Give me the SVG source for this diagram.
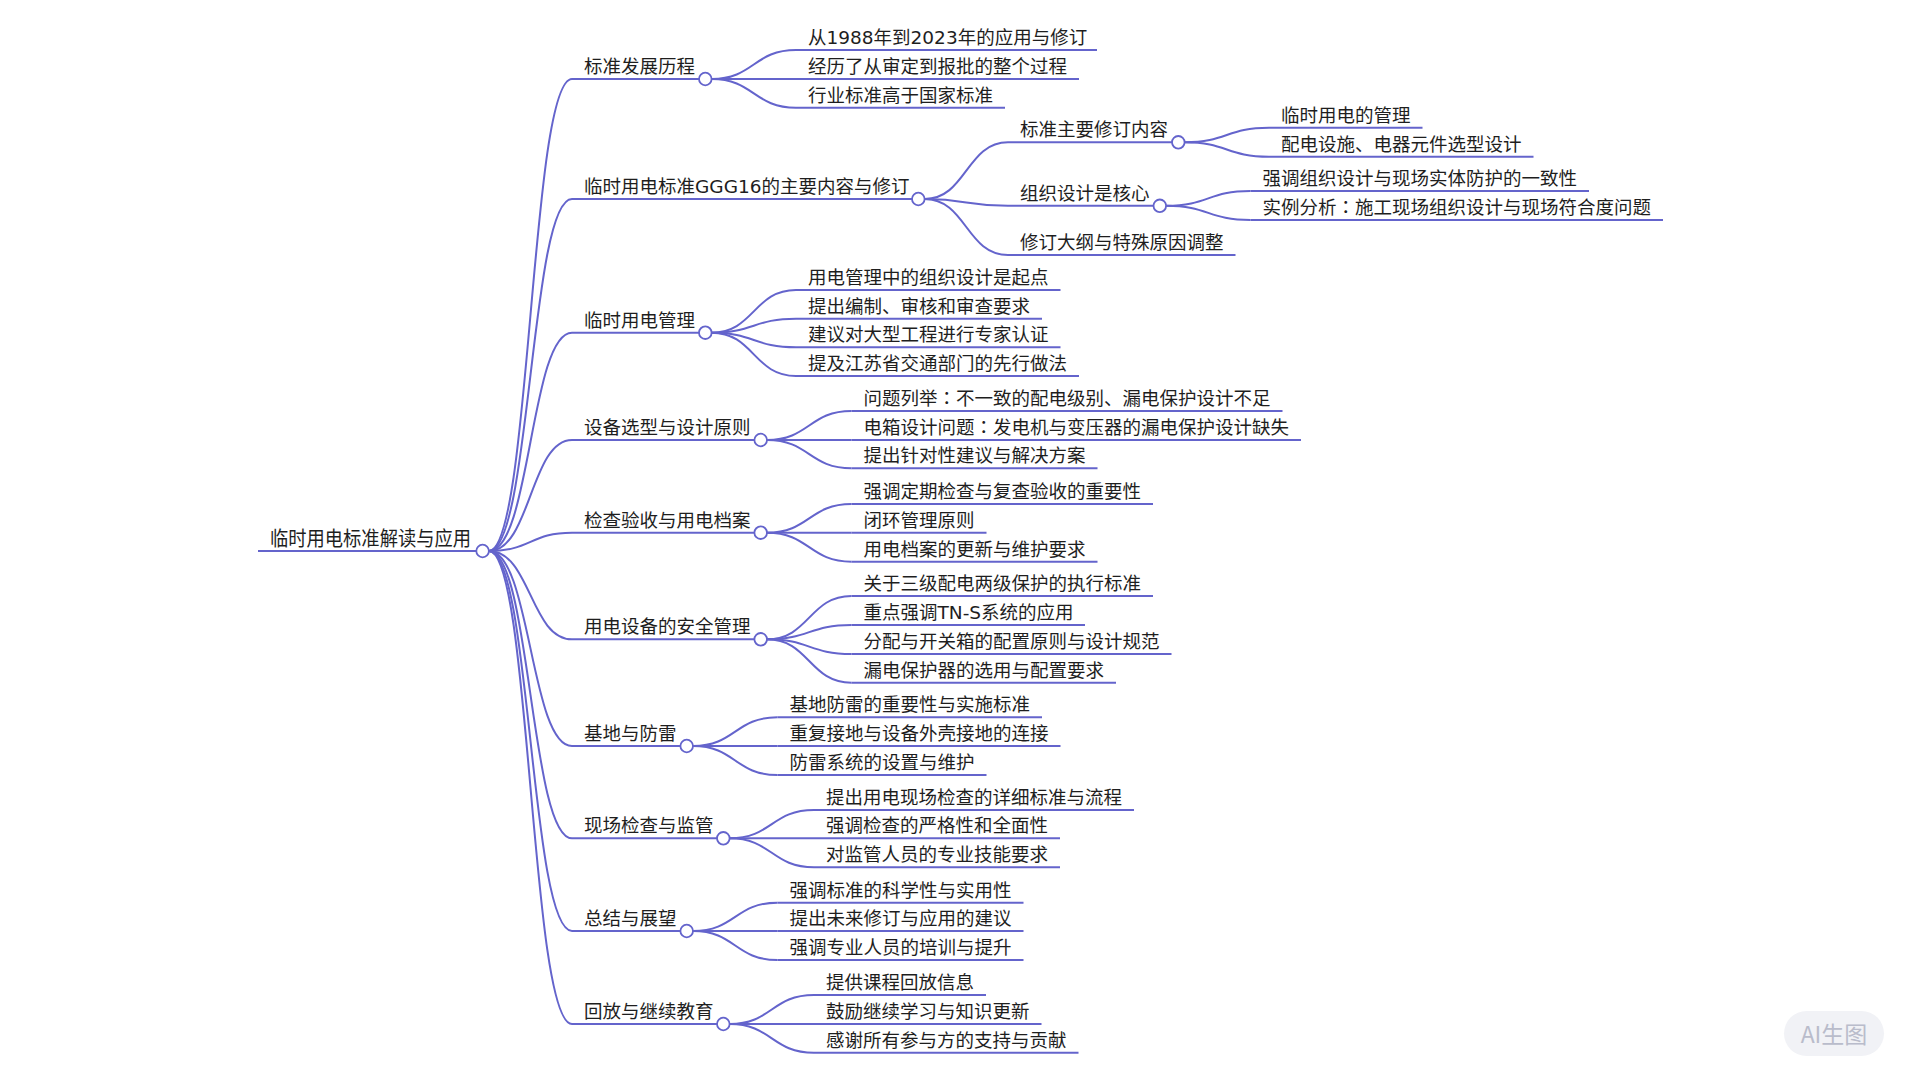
<svg xmlns="http://www.w3.org/2000/svg" width="1920" height="1080" viewBox="0 0 1920 1080">
<style>
.t{font-family:"DejaVu Sans","Noto Sans CJK SC",sans-serif;font-size:18.5px;fill:#1e1e1e}
.r{font-family:"Noto Sans CJK SC",sans-serif;font-size:20.2px;fill:#1e1e1e}
.p{font-family:"Noto Sans CJK JP",sans-serif}
.u{fill:none;stroke:#6464cc;stroke-width:2}
.c{fill:none;stroke:#6464cc;stroke-width:2}
.k{fill:#ffffff;stroke:#6464cc;stroke-width:1.8}
</style>
<rect width="1920" height="1080" fill="#ffffff"/>
<g id="connectors">
<path class="c" d="M488.9 551C530.5 551 530.5 79 572 79"/>
<path class="c" d="M488.9 551C530.5 551 530.5 199 572 199"/>
<path class="c" d="M488.9 551C530.5 551 530.5 332.7 572 332.7"/>
<path class="c" d="M488.9 551C530.5 551 530.5 440 572 440"/>
<path class="c" d="M488.9 551C530.5 551 530.5 532.7 572 532.7"/>
<path class="c" d="M488.9 551C530.5 551 530.5 639.3 572 639.3"/>
<path class="c" d="M488.9 551C530.5 551 530.5 746 572 746"/>
<path class="c" d="M488.9 551C530.5 551 530.5 838.3 572 838.3"/>
<path class="c" d="M488.9 551C530.5 551 530.5 931 572 931"/>
<path class="c" d="M488.9 551C530.5 551 530.5 1024 572 1024"/>
<path class="c" d="M711.6 79C753.8 79 753.8 50 796 50"/>
<path class="c" d="M711.6 79C753.8 79 753.8 79 796 79"/>
<path class="c" d="M711.6 79C753.8 79 753.8 107.7 796 107.7"/>
<path class="c" d="M924.6 199C966.3 199 966.3 142.3 1008 142.3"/>
<path class="c" d="M924.6 199C966.3 199 966.3 205.8 1008 205.8"/>
<path class="c" d="M924.6 199C966.3 199 966.3 255 1008 255"/>
<path class="c" d="M1184.6 142.3C1226.8 142.3 1226.8 127.7 1269 127.7"/>
<path class="c" d="M1184.6 142.3C1226.8 142.3 1226.8 156.7 1269 156.7"/>
<path class="c" d="M1166.1 205.8C1208.3 205.8 1208.3 191 1250.5 191"/>
<path class="c" d="M1166.1 205.8C1208.3 205.8 1208.3 220 1250.5 220"/>
<path class="c" d="M711.6 332.7C753.8 332.7 753.8 290 796 290"/>
<path class="c" d="M711.6 332.7C753.8 332.7 753.8 318.7 796 318.7"/>
<path class="c" d="M711.6 332.7C753.8 332.7 753.8 347.3 796 347.3"/>
<path class="c" d="M711.6 332.7C753.8 332.7 753.8 376 796 376"/>
<path class="c" d="M767 440C809.2 440 809.2 411 851.5 411"/>
<path class="c" d="M767 440C809.2 440 809.2 440 851.5 440"/>
<path class="c" d="M767 440C809.2 440 809.2 468.3 851.5 468.3"/>
<path class="c" d="M767 532.7C809.2 532.7 809.2 504 851.5 504"/>
<path class="c" d="M767 532.7C809.2 532.7 809.2 532.7 851.5 532.7"/>
<path class="c" d="M767 532.7C809.2 532.7 809.2 561.7 851.5 561.7"/>
<path class="c" d="M767 639.3C809.2 639.3 809.2 596 851.5 596"/>
<path class="c" d="M767 639.3C809.2 639.3 809.2 625 851.5 625"/>
<path class="c" d="M767 639.3C809.2 639.3 809.2 654 851.5 654"/>
<path class="c" d="M767 639.3C809.2 639.3 809.2 682.7 851.5 682.7"/>
<path class="c" d="M693 746C735.2 746 735.2 717.3 777.4 717.3"/>
<path class="c" d="M693 746C735.2 746 735.2 746 777.4 746"/>
<path class="c" d="M693 746C735.2 746 735.2 775 777.4 775"/>
<path class="c" d="M729.6 838.3C771.8 838.3 771.8 810 814 810"/>
<path class="c" d="M729.6 838.3C771.8 838.3 771.8 838.3 814 838.3"/>
<path class="c" d="M729.6 838.3C771.8 838.3 771.8 867.3 814 867.3"/>
<path class="c" d="M693 931C735.2 931 735.2 902.7 777.4 902.7"/>
<path class="c" d="M693 931C735.2 931 735.2 931 777.4 931"/>
<path class="c" d="M693 931C735.2 931 735.2 960 777.4 960"/>
<path class="c" d="M729.6 1024C771.8 1024 771.8 995 814 995"/>
<path class="c" d="M729.6 1024C771.8 1024 771.8 1024 814 1024"/>
<path class="c" d="M729.6 1024C771.8 1024 771.8 1052.7 814 1052.7"/>
</g>
<g id="root"><path class="u" d="M258 551H476.3"/><text class="r" x="270" y="545.5" textLength="201" lengthAdjust="spacingAndGlyphs">临时用电标准解读与应用</text><circle class="k" cx="482.6" cy="551" r="6.3"/></g>
<g id="n1"><path class="u" d="M572 79H699"/><text class="t" x="584" y="73">标准发展历程</text><circle class="k" cx="705.3" cy="79" r="6.3"/></g>
<g id="n1a"><path class="u" d="M796 50H1097"/><text class="t" x="808" y="44">从1988年到2023年的应用与修订</text></g>
<g id="n1b"><path class="u" d="M796 79H1079"/><text class="t" x="808" y="73">经历了从审定到报批的整个过程</text></g>
<g id="n1c"><path class="u" d="M796 107.7H1005"/><text class="t" x="808" y="101.7">行业标准高于国家标准</text></g>
<g id="n2"><path class="u" d="M572 199H912"/><text class="t" x="584" y="193">临时用电标准GGG16的主要内容与修订</text><circle class="k" cx="918.3" cy="199" r="6.3"/></g>
<g id="n2a"><path class="u" d="M1008 142.3H1172"/><text class="t" x="1020" y="136.3">标准主要修订内容</text><circle class="k" cx="1178.3" cy="142.3" r="6.3"/></g>
<g id="n2a1"><path class="u" d="M1269 127.7H1422.5"/><text class="t" x="1281" y="121.7">临时用电的管理</text></g>
<g id="n2a2"><path class="u" d="M1269 156.7H1533.5"/><text class="t" x="1281" y="150.7">配电设施、电器元件选型设计</text></g>
<g id="n2b"><path class="u" d="M1008 205.8H1153.5"/><text class="t" x="1020" y="199.8">组织设计是核心</text><circle class="k" cx="1159.8" cy="205.8" r="6.3"/></g>
<g id="n2b1"><path class="u" d="M1250.5 191H1589"/><text class="t" x="1262.5" y="185">强调组织设计与现场实体防护的一致性</text></g>
<g id="n2b2"><path class="u" d="M1250.5 220H1663"/><text class="t" x="1262.5" y="214">实例分析<tspan class="p">：</tspan>施工现场组织设计与现场符合度问题</text></g>
<g id="n2c"><path class="u" d="M1008 255H1235.5"/><text class="t" x="1020" y="249">修订大纲与特殊原因调整</text></g>
<g id="n3"><path class="u" d="M572 332.7H699"/><text class="t" x="584" y="326.7">临时用电管理</text><circle class="k" cx="705.3" cy="332.7" r="6.3"/></g>
<g id="n3a"><path class="u" d="M796 290H1060.5"/><text class="t" x="808" y="284">用电管理中的组织设计是起点</text></g>
<g id="n3b"><path class="u" d="M796 318.7H1042"/><text class="t" x="808" y="312.7">提出编制、审核和审查要求</text></g>
<g id="n3c"><path class="u" d="M796 347.3H1060.5"/><text class="t" x="808" y="341.3">建议对大型工程进行专家认证</text></g>
<g id="n3d"><path class="u" d="M796 376H1079"/><text class="t" x="808" y="370">提及江苏省交通部门的先行做法</text></g>
<g id="n4"><path class="u" d="M572 440H754.4"/><text class="t" x="584" y="434">设备选型与设计原则</text><circle class="k" cx="760.7" cy="440" r="6.3"/></g>
<g id="n4a"><path class="u" d="M851.5 411H1282.5"/><text class="t" x="863.5" y="405">问题列举<tspan class="p">：</tspan>不一致的配电级别、漏电保护设计不足</text></g>
<g id="n4b"><path class="u" d="M851.5 440H1301"/><text class="t" x="863.5" y="434">电箱设计问题<tspan class="p">：</tspan>发电机与变压器的漏电保护设计缺失</text></g>
<g id="n4c"><path class="u" d="M851.5 468.3H1097.5"/><text class="t" x="863.5" y="462.3">提出针对性建议与解决方案</text></g>
<g id="n5"><path class="u" d="M572 532.7H754.4"/><text class="t" x="584" y="526.7">检查验收与用电档案</text><circle class="k" cx="760.7" cy="532.7" r="6.3"/></g>
<g id="n5a"><path class="u" d="M851.5 504H1153"/><text class="t" x="863.5" y="498">强调定期检查与复查验收的重要性</text></g>
<g id="n5b"><path class="u" d="M851.5 532.7H986.5"/><text class="t" x="863.5" y="526.7">闭环管理原则</text></g>
<g id="n5c"><path class="u" d="M851.5 561.7H1097.5"/><text class="t" x="863.5" y="555.7">用电档案的更新与维护要求</text></g>
<g id="n6"><path class="u" d="M572 639.3H754.4"/><text class="t" x="584" y="633.3">用电设备的安全管理</text><circle class="k" cx="760.7" cy="639.3" r="6.3"/></g>
<g id="n6a"><path class="u" d="M851.5 596H1153"/><text class="t" x="863.5" y="590">关于三级配电两级保护的执行标准</text></g>
<g id="n6b"><path class="u" d="M851.5 625H1085"/><text class="t" x="863.5" y="619">重点强调TN-S系统的应用</text></g>
<g id="n6c"><path class="u" d="M851.5 654H1171.5"/><text class="t" x="863.5" y="648">分配与开关箱的配置原则与设计规范</text></g>
<g id="n6d"><path class="u" d="M851.5 682.7H1116"/><text class="t" x="863.5" y="676.7">漏电保护器的选用与配置要求</text></g>
<g id="n7"><path class="u" d="M572 746H680.4"/><text class="t" x="584" y="740">基地与防雷</text><circle class="k" cx="686.7" cy="746" r="6.3"/></g>
<g id="n7a"><path class="u" d="M777.4 717.3H1042"/><text class="t" x="789.4" y="711.3">基地防雷的重要性与实施标准</text></g>
<g id="n7b"><path class="u" d="M777.4 746H1060.5"/><text class="t" x="789.4" y="740">重复接地与设备外壳接地的连接</text></g>
<g id="n7c"><path class="u" d="M777.4 775H986.5"/><text class="t" x="789.4" y="769">防雷系统的设置与维护</text></g>
<g id="n8"><path class="u" d="M572 838.3H717"/><text class="t" x="584" y="832.3">现场检查与监管</text><circle class="k" cx="723.3" cy="838.3" r="6.3"/></g>
<g id="n8a"><path class="u" d="M814 810H1134"/><text class="t" x="826" y="804">提出用电现场检查的详细标准与流程</text></g>
<g id="n8b"><path class="u" d="M814 838.3H1060"/><text class="t" x="826" y="832.3">强调检查的严格性和全面性</text></g>
<g id="n8c"><path class="u" d="M814 867.3H1060"/><text class="t" x="826" y="861.3">对监管人员的专业技能要求</text></g>
<g id="n9"><path class="u" d="M572 931H680.4"/><text class="t" x="584" y="925">总结与展望</text><circle class="k" cx="686.7" cy="931" r="6.3"/></g>
<g id="n9a"><path class="u" d="M777.4 902.7H1023.5"/><text class="t" x="789.4" y="896.7">强调标准的科学性与实用性</text></g>
<g id="n9b"><path class="u" d="M777.4 931H1023.5"/><text class="t" x="789.4" y="925">提出未来修订与应用的建议</text></g>
<g id="n9c"><path class="u" d="M777.4 960H1023.5"/><text class="t" x="789.4" y="954">强调专业人员的培训与提升</text></g>
<g id="n10"><path class="u" d="M572 1024H717"/><text class="t" x="584" y="1018">回放与继续教育</text><circle class="k" cx="723.3" cy="1024" r="6.3"/></g>
<g id="n10a"><path class="u" d="M814 995H986"/><text class="t" x="826" y="989">提供课程回放信息</text></g>
<g id="n10b"><path class="u" d="M814 1024H1041.5"/><text class="t" x="826" y="1018">鼓励继续学习与知识更新</text></g>
<g id="n10c"><path class="u" d="M814 1052.7H1078.5"/><text class="t" x="826" y="1046.7">感谢所有参与方的支持与贡献</text></g>
<g id="badge"><rect x="1784" y="1011" width="100" height="45" rx="22.5" fill="#f1f2f6"/><text x="1834" y="1042.5" text-anchor="middle" font-family="'Noto Sans CJK SC',sans-serif" font-size="23" fill="#b9bccb">AI生图</text></g>
</svg>
